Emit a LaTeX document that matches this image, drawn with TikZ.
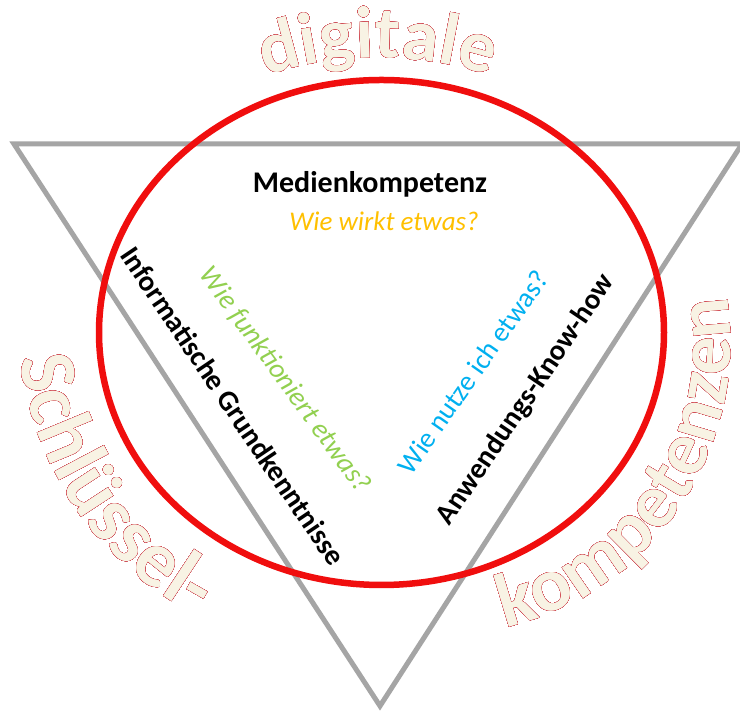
\documentclass[tikz,border=0pt]{standalone}
\usepackage{fontspec}
\setmainfont{Carlito}
\usetikzlibrary{decorations.text}
\definecolor{trigray}{RGB}{165,165,165}
\definecolor{circred}{RGB}{240,14,14}
\definecolor{warred}{RGB}{200,30,45}
\definecolor{warfill}{RGB}{248,243,228}
\definecolor{warshadow}{RGB}{205,205,205}
\definecolor{wwgold}{RGB}{255,192,0}
\definecolor{wfgreen}{RGB}{146,208,80}
\definecolor{wnblue}{RGB}{0,176,240}
% word art along a path: #1 font size, #2 path, #3 text
\newcommand\wordart[3]{%
  \foreach \ang in {0,60,...,300}{%
    \path[shift={(-3,-3)}, shift={(\ang:1.8)}, decorate,
      decoration={text along path, text align=center,
        text={|\bfseries\fontsize{#1}{#1}\selectfont\color{warshadow}|#3}}] #2;
  }%
  \foreach \ang in {0,30,...,330}{%
    \path[shift={(\ang:1.7)}, decorate,
      decoration={text along path, text align=center,
        text={|\bfseries\fontsize{#1}{#1}\selectfont\color{warred}|#3}}] #2;
  }%
  \path[decorate,
    decoration={text along path, text align=center,
      text={|\bfseries\fontsize{#1}{#1}\selectfont\color{warfill}|#3}}] #2;
}
\tikzset{
  lbl/.style={inner sep=0pt, outer sep=0pt},
  boldlbl/.style={lbl, font=\bfseries\fontsize{29}{34}\selectfont, text=black},
  itlbl/.style={lbl, font=\itshape\fontsize{28}{34}\selectfont},
  reglbl/.style={lbl, font=\fontsize{28}{34}\selectfont},
}
\begin{document}
\begin{tikzpicture}[x=1pt,y=1pt]
\useasboundingbox (0,0) rectangle (740,711);
\fill[white] (0,0) rectangle (740,711);
% triangle
\coordinate (TL) at (14,567);
\coordinate (TR) at (742,567);
\coordinate (B) at (380,5);
\draw[trigray, line width=5pt, line join=miter] (TL) -- (TR) -- (B) -- cycle;
% red ellipse
\coordinate (EC) at (381.5,378.5);
\draw[circred, line width=6.5pt] (EC) ellipse [x radius=282.5, y radius=252.5];
% inner labels
\node[lbl, font=\bfseries\fontsize{30}{36}\selectfont, anchor=base] (medien) at (370,518) {Medienkompetenz};
\node[itlbl, font=\itshape\fontsize{27}{32}\selectfont, text=wwgold] (wirkt) at (384,490) {Wie wirkt etwas?};
\node[boldlbl, rotate=-56] (info) at (233,305) {Informatische Grundkenntnisse};
\node[itlbl, text=wfgreen, rotate=-54] (funkt) at (285,331) {Wie funktioniert etwas?};
\node[reglbl, text=wnblue, rotate=55] (nutze) at (473,339) {Wie nutze ich etwas?};
\node[boldlbl, rotate=56] (anw) at (526,311) {Anwendungs-Know-how};
% word art
\coordinate (DC) at (378,293);
\coordinate (SC) at (352,391);
\coordinate (KC) at (439,368);
\wordart{74}{([shift={(135:360)}]DC) arc[start angle=135, end angle=45, radius=360]}{digitale}
\wordart{80}{([shift={(154.5:334)}]SC) arc[start angle=154.5, end angle=274.5, radius=334]}{Schlüssel-}
\wordart{77}{([shift={(-103.9:292)}]KC) arc[start angle=-103.9, end angle=36.1, radius=292]}{kompetenzen}
\end{tikzpicture}
\end{document}
